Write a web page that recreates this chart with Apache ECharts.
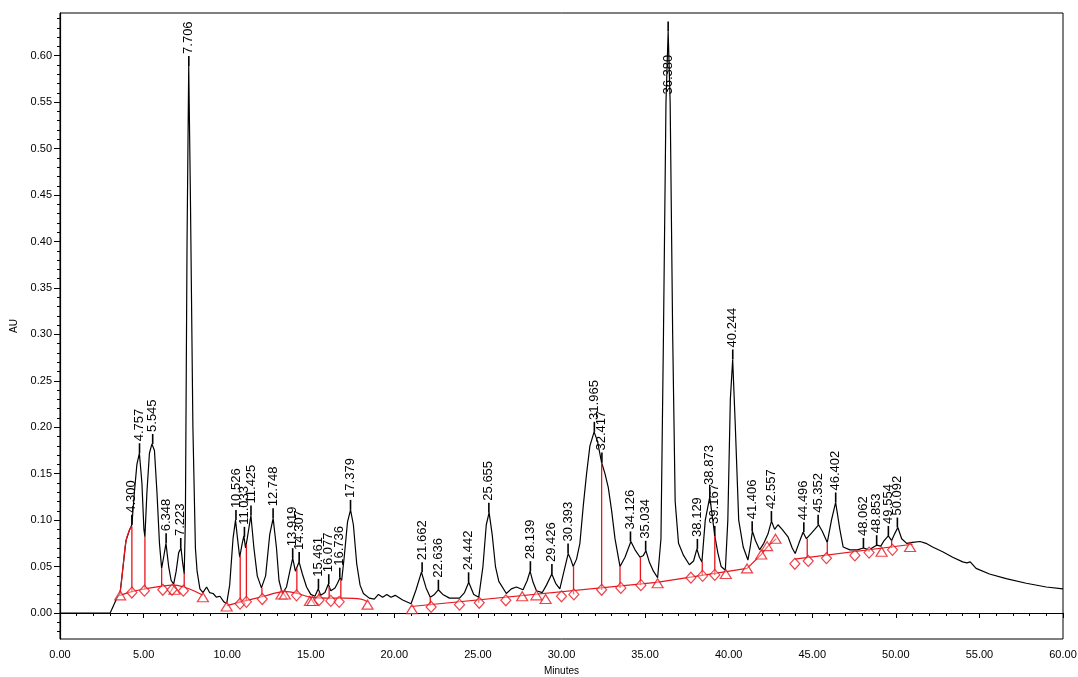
<!DOCTYPE html>
<html>
<head>
<meta charset="utf-8">
<script src="https://cdn.jsdelivr.net/npm/echarts@6/dist/echarts.min.js"></script>
<style>
  html, body { margin: 0; padding: 0; background: #fff; }
  #chart { width: 1078px; height: 677px; }
</style>
</head>
<body>
<div id="chart"></div>
<script>
// detector trace, [minutes, AU]
const trace = [
  [0, 0], [3.0, 0], [3.1, 0.002], [3.25, 0.01], [3.4, 0.016], [3.59, 0.021], [3.79, 0.053], [3.95, 0.078],
  [4.15, 0.089], [4.3, 0.095], [4.45, 0.13], [4.6, 0.16], [4.75, 0.172], [4.9, 0.14], [5.02, 0.09], [5.08, 0.082],
  [5.2, 0.13], [5.35, 0.172], [5.5, 0.182], [5.65, 0.175], [5.8, 0.13], [5.95, 0.075], [6.08, 0.048], [6.2, 0.06],
  [6.34, 0.075], [6.5, 0.05], [6.65, 0.035], [6.8, 0.031], [6.95, 0.045], [7.1, 0.065], [7.24, 0.07], [7.33, 0.055],
  [7.43, 0.042], [7.5, 0.1], [7.6, 0.4], [7.7, 0.589], [7.8, 0.45], [7.95, 0.2], [8.1, 0.07], [8.2, 0.045],
  [8.37, 0.026], [8.55, 0.022], [8.77, 0.028], [8.95, 0.022], [9.16, 0.021], [9.35, 0.017], [9.57, 0.018], [9.8, 0.012],
  [9.97, 0.010], [10.15, 0.03], [10.35, 0.08], [10.5, 0.1], [10.62, 0.08], [10.75, 0.06], [10.9, 0.075], [11.0, 0.083],
  [11.1, 0.07], [11.2, 0.08], [11.42, 0.105], [11.6, 0.07], [11.8, 0.04], [12.05, 0.027], [12.3, 0.04], [12.55, 0.085],
  [12.75, 0.102], [12.95, 0.07], [13.1, 0.035], [13.3, 0.021], [13.55, 0.028], [13.75, 0.045], [13.92, 0.059], [14.08, 0.045],
  [14.3, 0.055], [14.5, 0.042], [14.75, 0.028], [15.0, 0.02], [15.25, 0.018], [15.45, 0.026], [15.6, 0.019], [15.85, 0.022],
  [16.05, 0.031], [16.2, 0.024], [16.45, 0.027], [16.6, 0.032], [16.75, 0.038], [16.85, 0.035], [17.0, 0.06], [17.2, 0.098],
  [17.38, 0.111], [17.55, 0.095], [17.75, 0.053], [17.95, 0.03], [18.15, 0.021], [18.5, 0.016], [18.8, 0.015], [19.05, 0.02],
  [19.3, 0.017], [19.55, 0.02], [19.8, 0.017], [20.05, 0.019], [20.5, 0.014], [21.0, 0.01], [21.3, 0.025], [21.62, 0.044],
  [21.9, 0.027], [22.15, 0.017], [22.4, 0.02], [22.63, 0.025], [22.9, 0.02], [23.3, 0.016], [23.9, 0.016], [24.2, 0.022],
  [24.45, 0.033], [24.75, 0.02], [25.05, 0.017], [25.3, 0.05], [25.5, 0.095], [25.67, 0.108], [25.85, 0.085], [26.05, 0.05],
  [26.25, 0.034], [26.7, 0.021], [27.0, 0.026], [27.3, 0.028], [27.7, 0.025], [27.95, 0.035], [28.12, 0.045], [28.3, 0.033],
  [28.5, 0.024], [28.85, 0.022], [29.1, 0.03], [29.42, 0.042], [29.65, 0.032], [29.9, 0.026], [30.15, 0.045], [30.4, 0.064],
  [30.55, 0.058], [30.7, 0.05], [30.9, 0.058], [31.1, 0.075], [31.3, 0.115], [31.5, 0.15], [31.7, 0.18], [31.95, 0.195],
  [32.15, 0.185], [32.4, 0.162], [32.6, 0.15], [32.8, 0.135], [33.0, 0.11], [33.2, 0.08], [33.5, 0.05], [33.8, 0.06],
  [34.15, 0.077], [34.4, 0.068], [34.7, 0.06], [34.9, 0.062], [35.05, 0.067], [35.25, 0.055], [35.5, 0.045], [35.75, 0.038],
  [35.95, 0.08], [36.1, 0.3], [36.25, 0.55], [36.38, 0.626], [36.5, 0.55], [36.65, 0.3], [36.8, 0.12], [37.0, 0.075],
  [37.3, 0.062], [37.65, 0.052], [37.9, 0.056], [38.1, 0.069], [38.25, 0.06], [38.4, 0.055], [38.6, 0.1], [38.87, 0.125],
  [39.05, 0.1], [39.17, 0.083], [39.35, 0.065], [39.55, 0.05], [39.8, 0.046], [39.95, 0.1], [40.1, 0.23], [40.24, 0.273],
  [40.4, 0.2], [40.6, 0.1], [40.87, 0.071], [41.15, 0.057], [41.28, 0.07], [41.42, 0.088], [41.6, 0.078], [41.85, 0.068],
  [42.1, 0.075], [42.35, 0.085], [42.56, 0.099], [42.75, 0.09], [42.95, 0.095], [43.2, 0.09], [43.55, 0.082], [43.8, 0.07],
  [43.98, 0.064], [44.2, 0.075], [44.45, 0.087], [44.65, 0.08], [44.9, 0.085], [45.15, 0.09], [45.38, 0.095], [45.6, 0.088],
  [45.9, 0.076], [46.15, 0.1], [46.4, 0.119], [46.65, 0.09], [46.85, 0.071], [47.25, 0.068], [47.7, 0.068], [48.06, 0.07],
  [48.4, 0.068], [48.85, 0.073], [49.1, 0.072], [49.3, 0.078], [49.55, 0.083], [49.75, 0.078], [49.95, 0.086], [50.12, 0.092],
  [50.35, 0.08], [50.65, 0.075], [51.0, 0.076], [51.45, 0.077], [51.8, 0.075], [52.2, 0.071], [52.8, 0.066], [53.4, 0.06],
  [54.0, 0.055], [54.25, 0.054], [54.45, 0.055], [54.8, 0.048], [55.6, 0.042], [56.6, 0.037], [57.8, 0.032], [59.0, 0.028],
  [60, 0.026]
];

// integration baselines (red)
const baselineA = [[3.6, 0.019], [4.3, 0.023], [5.1, 0.026], [6.1, 0.029], [6.8, 0.03], [7.4, 0.028], [8.0, 0.024], [8.55, 0.019]];
const skimA = [[3.5, 0.018], [3.59, 0.021], [3.79, 0.053], [3.95, 0.078], [4.15, 0.089], [4.28, 0.093]];
const baselineB = [[9.97, 0.008], [10.8, 0.012], [11.5, 0.015], [12.2, 0.018], [13.0, 0.022], [13.5, 0.023], [14.2, 0.021], [15.0, 0.017], [16.0, 0.016], [17.0, 0.016], [18.0, 0.015], [18.4, 0.012]];
const baselineC = [[21.0, 0.007], [35.7, 0.033], [41.1, 0.048], [41.95, 0.063], [42.35, 0.072], [42.85, 0.08]];
const baselineD = [[43.95, 0.058], [51.0, 0.074]];

// drop lines: [minutes, top AU, bottom AU]
const dropLines = [
  [4.3, 0.093, 0.023], [5.08, 0.082, 0.026], [6.08, 0.048, 0.028], [7.43, 0.042, 0.028],
  [10.78, 0.062, 0.012], [11.15, 0.074, 0.013], [12.08, 0.027, 0.018], [14.17, 0.048, 0.021],
  [15.5, 0.022, 0.017], [16.1, 0.028, 0.016], [16.8, 0.036, 0.016],
  [22.15, 0.017, 0.008], [25.05, 0.017, 0.011], [30.72, 0.05, 0.02], [32.4, 0.162, 0.025],
  [33.5, 0.05, 0.027], [34.72, 0.06, 0.03], [38.42, 0.055, 0.04], [39.17, 0.083, 0.041],
  [44.7, 0.08, 0.06], [45.9, 0.076, 0.063], [48.4, 0.068, 0.066], [49.75, 0.078, 0.07]
];

const triangleMarks = [
  [3.6, 0.019], [6.85, 0.025], [8.55, 0.017], [9.97, 0.007], [13.25, 0.02], [13.45, 0.02], [14.95, 0.013], [15.1, 0.013],
  [18.4, 0.009], [21.05, 0.004], [27.65, 0.018], [28.5, 0.019], [29.05, 0.015], [35.75, 0.032], [39.83, 0.042],
  [41.1, 0.048], [41.95, 0.063], [42.3, 0.072], [42.8, 0.08], [49.15, 0.066], [50.85, 0.071]
];
const diamondMarks = [
  [4.3, 0.022], [5.05, 0.024], [6.15, 0.025], [6.7, 0.025], [7.38, 0.024], [10.77, 0.01], [11.15, 0.012], [12.1, 0.015],
  [14.15, 0.019], [15.5, 0.014], [16.2, 0.013], [16.7, 0.012], [22.2, 0.0065], [23.9, 0.009], [25.08, 0.011],
  [26.67, 0.0137], [30.0, 0.018], [30.74, 0.02], [32.4, 0.025], [33.55, 0.027], [34.75, 0.03], [37.74, 0.038],
  [38.44, 0.04], [39.17, 0.041], [43.96, 0.053], [44.76, 0.056], [45.85, 0.059], [47.55, 0.062], [48.4, 0.065], [49.8, 0.068]
];

const peakTimes = [4.300, 4.757, 5.545, 6.348, 7.223, 7.706, 10.526, 11.033, 11.425, 12.748, 13.919, 14.307, 15.461, 16.077,
  16.736, 17.379, 21.662, 22.636, 24.442, 25.655, 28.139, 29.426, 30.393, 31.965, 32.417, 34.126, 35.034, 36.380,
  38.129, 38.873, 39.167, 40.244, 41.406, 42.557, 44.496, 45.352, 46.402, 48.062, 48.853, 49.554, 50.092];
const peakHeights = [0.095, 0.172, 0.182, 0.075, 0.070, 0.589, 0.100, 0.082, 0.105, 0.102, 0.059, 0.055, 0.026, 0.031,
  0.038, 0.111, 0.044, 0.025, 0.033, 0.108, 0.045, 0.042, 0.064, 0.195, 0.162, 0.077, 0.067, 0.626,
  0.069, 0.125, 0.083, 0.273, 0.088, 0.099, 0.087, 0.095, 0.119, 0.070, 0.073, 0.083, 0.092];

const yLabelValues = [0, 0.05, 0.10, 0.15, 0.20, 0.25, 0.30, 0.35, 0.40, 0.45, 0.50, 0.55, 0.60];
const yMinorValues = [];
for (let i = -2; i <= 64; i++) yMinorValues.push(i / 100);

const RED = '#e8141c';
const FONT = '"Liberation Sans", Arial, sans-serif';

const chart = echarts.init(document.getElementById('chart'));

function redLine(data, smooth) {
  return {
    type: 'line', data: data, showSymbol: false, smooth: smooth ? 0.4 : false, z: 3, silent: true,
    lineStyle: { color: RED, width: 1.2 }
  };
}

chart.setOption({
  animation: false,
  grid: {
    left: 60, right: 15, top: 13, bottom: 38, outerBoundsMode: 'none',
    show: true, borderColor: '#000', borderWidth: 1
  },
  xAxis: {
    type: 'value', min: 0, max: 60, interval: 5,
    name: 'Minutes', nameLocation: 'middle', nameGap: 27,
    nameTextStyle: { fontSize: 10, color: '#000', fontFamily: FONT },
    axisLine: { lineStyle: { color: '#000', width: 1.2 } },
    axisTick: { length: 5, lineStyle: { color: '#000' } },
    minorTick: { show: true, splitNumber: 5, length: 3, lineStyle: { color: '#000' } },
    splitLine: { show: false },
    axisLabel: { color: '#000', fontSize: 11, fontFamily: FONT, margin: 10, formatter: v => v.toFixed(2) }
  },
  yAxis: [{
    type: 'value', min: -0.028, max: 0.646,
    name: 'AU', nameLocation: 'middle', nameGap: 35, nameRotate: 90,
    nameTextStyle: { fontSize: 10, color: '#000', fontFamily: FONT },
    axisLine: { show: true, lineStyle: { color: '#000', width: 1.2 } },
    axisTick: { show: true, length: 6, customValues: yLabelValues, lineStyle: { color: '#000' } },
    splitLine: { show: false },
    axisLabel: { color: '#000', fontSize: 11, fontFamily: FONT, margin: 8, customValues: yLabelValues, formatter: v => v.toFixed(2) }
  }, {
    type: 'value', min: -0.028, max: 0.646, position: 'left', offset: 0,
    axisLine: { show: false },
    axisTick: { show: true, length: 3, customValues: yMinorValues, lineStyle: { color: '#000' } },
    axisLabel: { show: false },
    splitLine: { show: false }
  }],
  series: [
    {
      type: 'line', data: trace, showSymbol: false, z: 2, silent: true,
      lineStyle: { color: '#000', width: 1.2 }
    },
    redLine(skimA, true),
    redLine(baselineA, true),
    redLine(baselineB, true),
    redLine(baselineC, false),
    redLine(baselineD, false),
    {
      type: 'custom', data: dropLines, z: 4, silent: true,
      encode: { x: 0, y: [1, 2] },
      renderItem: function (params, api) {
        const p1 = api.coord([api.value(0), api.value(1)]);
        const p2 = api.coord([api.value(0), api.value(2)]);
        return { type: 'line', shape: { x1: p1[0], y1: p1[1], x2: p2[0], y2: p2[1] }, style: { stroke: RED, lineWidth: 1.3 } };
      }
    },
    {
      type: 'scatter', data: triangleMarks, symbol: 'triangle', symbolSize: [11, 9], z: 5, silent: true,
      itemStyle: { color: 'rgba(255,255,255,0.5)', borderColor: RED, borderWidth: 1.2 }
    },
    {
      type: 'scatter', data: diamondMarks, symbol: 'diamond', symbolSize: [10, 11], z: 5, silent: true,
      itemStyle: { color: 'rgba(255,255,255,0.5)', borderColor: RED, borderWidth: 1.2 }
    },
    {
      type: 'custom', z: 6, silent: true,
      data: peakTimes.map((t, i) => [t, peakHeights[i]]),
      encode: { x: 0, y: 1 },
      renderItem: function (params, api) {
        const t = api.value(0);
        const p = api.coord([t, api.value(1)]);
        const top = params.coordSys.y;
        let base = p[1] - 12;
        if (base - 36 < top) base = p[1] + 63; // no room above: label drops onto the peak
        return {
          type: 'group',
          children: [
            { type: 'line', shape: { x1: p[0], y1: p[1], x2: p[0], y2: p[1] - 10 }, style: { stroke: '#000', lineWidth: 1.6 } },
            {
              type: 'text', x: p[0], y: base, rotation: Math.PI / 2,
              style: { text: t.toFixed(3), x: 0, y: 0, align: 'left', verticalAlign: 'middle', fill: '#000', font: '13px ' + FONT }
            }
          ]
        };
      }
    }
  ]
});
</script>
</body>
</html>
